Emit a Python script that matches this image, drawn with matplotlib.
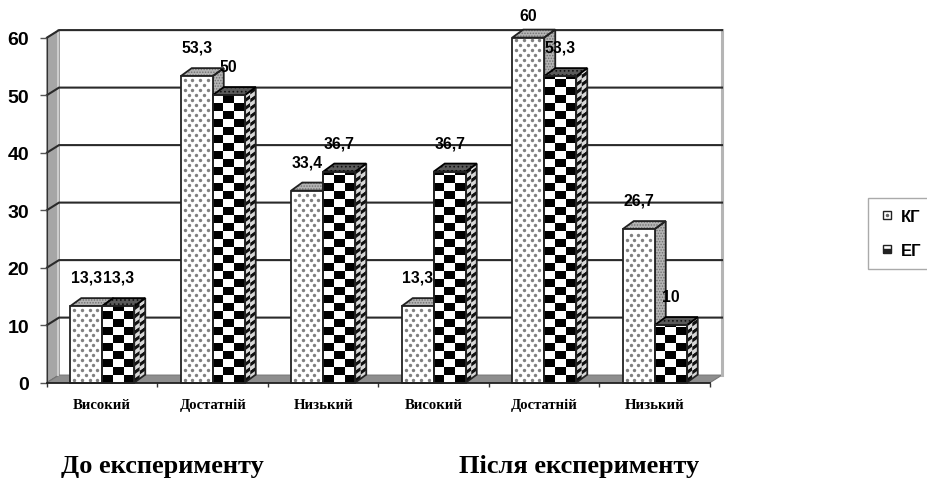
import numpy as np
import matplotlib
matplotlib.use("Agg")
import matplotlib.pyplot as plt
from matplotlib.lines import Line2D
from matplotlib.patches import Polygon, Rectangle
from matplotlib.legend_handler import HandlerTuple

categories = ["Високий", "Достатній", "Низький", "Високий", "Достатній", "Низький"]
kg = [13.3, 53.3, 33.4, 13.3, 60, 26.7]
eg = [13.3, 50, 36.7, 36.7, 53.3, 10]
kg_labels = ["13,3", "53,3", "33,4", "13,3", "60", "26,7"]
eg_labels = ["13,3", "50", "36,7", "36,7", "53,3", "10"]
yticks = [0, 10, 20, 30, 40, 50, 60]

W, H = 928, 481
LEFT, RIGHT, BASE, TOP = 47, 710, 383.6, 38.6
# one pixel in data units
PX = 6 / (RIGHT - LEFT)
PY = 60 / (BASE - TOP)
WALL_X, WALL_Y = 12 * PX, 7.5 * PY
DEPTH_X, DEPTH_Y = 11 * PX, 8 * PY
BAR_W = 32 * PX

plt.rcParams["font.family"] = ["Liberation Sans", "DejaVu Sans"]
plt.rcParams["hatch.linewidth"] = 0.7

fig = plt.figure(figsize=(W / 100, H / 100), dpi=100)
ax = fig.add_axes([LEFT / W, 1 - BASE / H, (RIGHT - LEFT) / W, (BASE - TOP) / H])
ax.set_xlim(0, 6)
ax.set_ylim(0, 60)
ax.patch.set_visible(False)


def poly(pts, fc, ec="#222222", lw=1.3, z=2, **kw):
    ax.add_patch(Polygon(pts, closed=True, facecolor=fc, edgecolor=ec, linewidth=lw,
                         zorder=z, clip_on=False, **kw))


def gray_face(pts, z):
    # hatch takes the edge colour, so the outline goes on separately
    poly(pts, "#b4b4b4", ec="#707070", lw=0, z=z, hatch="......")
    poly(pts, "none", z=z + 0.01)


# walls and floor
poly([(0, 0), (WALL_X, WALL_Y), (WALL_X, 60 + WALL_Y), (0, 60)], "#a6a6a6", ec="#555555", lw=0.8, z=1)
poly([(0, 0), (6, 0), (6 + WALL_X, WALL_Y), (WALL_X, WALL_Y)], "#8e8e8e", ec="#777777", lw=0.8, z=1)
ax.plot([WALL_X - 1 * PX] * 2, [WALL_Y, 60 + WALL_Y], color="#cfcfcf", lw=1.4, zorder=1.1, clip_on=False)
ax.plot([6 + WALL_X] * 2, [WALL_Y, 60 + WALL_Y], color="#b5b5b5", lw=2.2, zorder=1, clip_on=False)
for t in yticks[1:]:
    ax.plot([0, WALL_X, 6 + WALL_X], [t, t + WALL_Y, t + WALL_Y], color="#2a2a2a", lw=1.5,
            zorder=1.2, clip_on=False)


def kg_bar(x, v):
    l, r = x, x + BAR_W
    poly([(l, 0), (r, 0), (r, v), (l, v)], "white", z=3)
    # dotted front
    xs, ys = [], []
    for i, yy in enumerate(np.arange(2.5 * PY, v - 1.5 * PY, 5 * PY)):
        shift = 3.8 * PX if i % 2 else 0
        for xx in np.arange(l + 4 * PX + shift, r - 2 * PX, 7.7 * PX):
            xs.append(xx)
            ys.append(yy)
    ax.scatter(xs, ys, s=6, color="#808080", linewidths=0, zorder=3.1, clip_on=False)
    gray_face([(r, 0), (r + DEPTH_X, DEPTH_Y), (r + DEPTH_X, v + DEPTH_Y), (r, v)], 2.8)
    gray_face([(l, v), (r, v), (r + DEPTH_X, v + DEPTH_Y), (l + DEPTH_X, v + DEPTH_Y)], 2.8)


def eg_bar(x, v):
    l, r = x, x + BAR_W
    poly([(l, 0), (r, 0), (r, v), (l, v)], "white", z=4)
    cw, ch = BAR_W / 3, 8 * PY
    rows = int(np.ceil(v / ch))
    for row in range(rows):
        top = min((row + 1) * ch, v)
        for col in range(3):
            if (row + col) % 2 == 0:
                ax.add_patch(Rectangle((l + col * cw, row * ch), cw, top - row * ch, facecolor="black",
                                       linewidth=0, zorder=4.1, clip_on=False))
    # side face, finer checker
    sh = 4 * PY
    for row in range(int(np.ceil(v / sh))):
        top = min((row + 1) * sh, v)
        for col in range(2):
            x0 = r + col * DEPTH_X / 2
            x1 = x0 + DEPTH_X / 2
            off0 = col * DEPTH_Y / 2
            off1 = off0 + DEPTH_Y / 2
            fc = "#111111" if (row + col) % 2 == 0 else "#d8d8d8"
            ax.add_patch(Polygon([(x0, row * sh + off0), (x1, row * sh + off1),
                                  (x1, top + off1), (x0, top + off0)], closed=True, facecolor=fc,
                                 linewidth=0, zorder=3.6, clip_on=False))
    poly([(r, 0), (r + DEPTH_X, DEPTH_Y), (r + DEPTH_X, v + DEPTH_Y), (r, v)], "none", z=3.7)
    top_face = [(l, v), (r, v), (r + DEPTH_X, v + DEPTH_Y), (l + DEPTH_X, v + DEPTH_Y)]
    poly(top_face, "#5a5a5a", ec="#111111", lw=0, z=3.8, hatch="....")
    poly(top_face, "none", ec="black", z=3.81)
    poly([(l, 0), (r, 0), (r, v), (l, v)], "none", z=4.2)


for i in range(6):
    kg_bar(i + 0.5 - BAR_W, kg[i])
    eg_bar(i + 0.5, eg[i])
    ax.text(i + 0.5 - BAR_W / 2, kg[i] + (22 if kg[i] == 60 else 29) * PY, kg_labels[i], ha="center",
            va="center", fontsize=11.3, fontweight="bold", zorder=6, clip_on=False)
    ax.text(i + 0.5 + BAR_W / 2, eg[i] + 29 * PY, eg_labels[i], ha="center", va="center",
            fontsize=11.3, fontweight="bold", zorder=6, clip_on=False)

ax.set_yticks(yticks)
ax.set_yticklabels(yticks, fontsize=14, fontweight="bold")
ax.set_xticks(range(7))
ax.set_xticklabels([])
ax.set_xticks(np.arange(6) + 0.5, categories, minor=True, fontsize=10.6, fontweight="bold",
              family="Liberation Serif", va="baseline")
ax.tick_params(axis="x", which="minor", length=0, pad=18)
ax.tick_params(axis="x", which="major", length=3, width=1, color="#333333")
ax.tick_params(axis="y", length=5, width=1, color="#555555", pad=8)
for s in ["top", "right"]:
    ax.spines[s].set_visible(False)
ax.spines["left"].set_color("#333333")
ax.spines["bottom"].set_color("#222222")
ax.spines["bottom"].set_linewidth(1.3)
ax.spines["bottom"].set_zorder(5)

fig.text(61 / W, 1 - 466 / H, "До експерименту", family="Liberation Serif", fontweight="bold",
         fontsize=19, va="center", ha="left")
fig.text(459 / W, 1 - 466 / H, "Після експерименту", family="Liberation Serif", fontweight="bold",
         fontsize=19, va="center", ha="left")

h_kg = (Line2D([], [], marker="s", ms=5.5, mfc="white", mec="#222222", mew=1, ls=""),
        Line2D([], [], marker="o", ms=1.5, color="#666666", ls=""))
h_eg = Line2D([], [], marker="s", ms=5.5, mfc="#222222", mfcalt="white", fillstyle="bottom",
              mec="#222222", mew=1, ls="")
fig.legend([h_kg, h_eg], ["КГ", "ЕГ"], handler_map={tuple: HandlerTuple(ndivide=1)},
           loc="upper left", bbox_to_anchor=(868 / W, 1 - 199 / H), borderaxespad=0,
           prop={"weight": "bold", "size": 12}, fancybox=False, edgecolor="#aaaaaa", framealpha=1,
           labelspacing=1.15, handlelength=1.0, handletextpad=0.3, borderpad=0.65)

fig.savefig("out.png", dpi=100)
